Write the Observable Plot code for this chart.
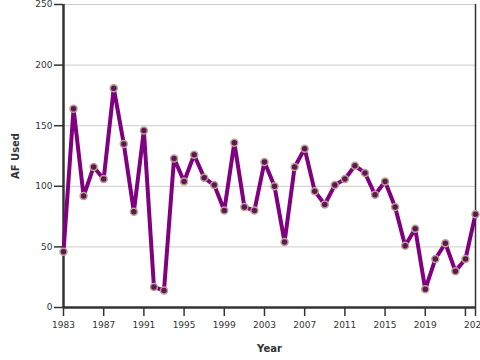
<!DOCTYPE html>
<html>
<head>
<meta charset="utf-8">
<script src="https://cdn.jsdelivr.net/npm/d3@7"></script>
<script src="https://cdn.jsdelivr.net/npm/@observablehq/plot@0.6"></script>
<style>
  html, body { margin: 0; padding: 0; background: #fff; }
  #chart svg { font-family: "DejaVu Sans", sans-serif; }
  #chart g[aria-label="y-axis label"] text,
  #chart g[aria-label="x-axis label"] text { font-weight: bold; font-size: 10px; }
</style>
</head>
<body>
<div id="chart"></div>
<script>
const years = d3.range(1983, 2025);
const afUsed = [46, 164, 92, 116, 106, 181, 135, 79, 146, 17,
                14, 123, 104, 126, 107, 101, 80, 136, 83, 80,
                120, 100, 54, 116, 131, 96, 85, 101, 106, 117,
                111, 93, 104, 83, 51, 65, 15, 40, 53, 30,
                40, 77];
const xTicks = [1983, 1987, 1991, 1995, 1999, 2003, 2007, 2011, 2015, 2019, 2023, 2024];
const xTickLabels = {2023: ""};
const yTicks = [0, 50, 100, 150, 200, 250];

const data = years.map((y, i) => ({year: y, af: afUsed[i]}));

const chart = Plot.plot({
  width: 480,
  height: 360,
  marginLeft: 63,
  marginRight: 5,
  marginTop: 4,
  marginBottom: 53,
  style: {fontFamily: "DejaVu Sans, sans-serif", fontSize: "9px", color: "#333"},
  x: {domain: [1983, 2024]},
  y: {domain: [0, 250]},
  marks: [
    Plot.gridY(yTicks, {stroke: "#cccccc", strokeOpacity: 1}),
    Plot.axisY({ticks: yTicks, tickSize: 9, tickPadding: 2, stroke: "#333", strokeWidth: 1.5,
      label: "AF Used", labelAnchor: "center", labelArrow: "none", labelOffset: 52}),
    Plot.axisX({ticks: xTicks, tickSize: 9, tickPadding: 5, stroke: "#333", strokeWidth: 1.5,
      tickFormat: d => (d in xTickLabels ? xTickLabels[d] : String(d)),
      label: "Year", labelAnchor: "center", labelArrow: "none", labelOffset: 44}),
    Plot.ruleY([0], {stroke: "#333", strokeWidth: 2.5}),
    Plot.ruleX([1983], {stroke: "#333", strokeWidth: 2.5}),
    Plot.ruleX([2024], {stroke: "#333", strokeWidth: 1.5}),
    Plot.line(data, {x: "year", y: "af", stroke: "#800080", strokeWidth: 4}),
    Plot.dot(data, {x: "year", y: "af", r: 3.5, fill: "#621458", stroke: "#b8a48c", strokeWidth: 1.5})
  ]
});
document.getElementById("chart").appendChild(chart);
</script>
</body>
</html>
